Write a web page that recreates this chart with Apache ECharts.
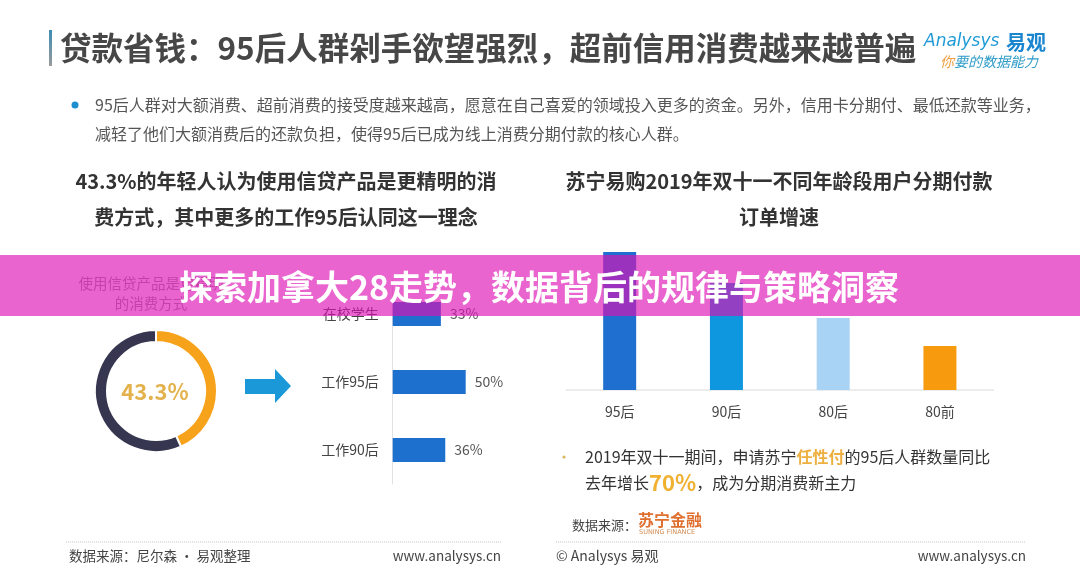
<!DOCTYPE html>
<html>
<head>
<meta charset="utf-8">
<script src="https://cdn.jsdelivr.net/npm/echarts@6/dist/echarts.min.js"></script>
<style>
html,body{margin:0;padding:0;background:#fff;}
#c{width:1080px;height:573px;}
</style>
</head>
<body>
<div id="c"></div>
<script>
// ---------- data ----------
const donutNames = ['认为使用信贷产品更精明', '其他'];
const donutValues = [43.3, 56.7];
const groupCats = ['在校学生', '工作95后', '工作90后'];
const groupValues = [33, 50, 36];
const ageCats = ['95后', '90后', '80后', '80前'];
const ageValues = [138, 107, 72, 44];   // relative order growth
const ageColors = ['#1E6FCF', '#0E97DF', '#A9D3F5', '#F79A0E'];

const FONT = 'Noto Sans CJK SC';
const chart = echarts.init(document.getElementById('c'));

function txt(x, y, text, style, extra) {
  return Object.assign({
    type: 'text', x: x, y: y,
    style: Object.assign({ text: text, fontFamily: FONT, fill: '#444', fontSize: 14, textVerticalAlign: 'middle', textAlign: 'left' }, style)
  }, extra || {});
}

const graphics = [
  // title bar
  { type: 'rect', shape: { x: 49, y: 30, width: 3, height: 36 },
    style: { fill: new echarts.graphic.LinearGradient(0, 0, 0, 1, [{ offset: 0, color: '#3d8db5' }, { offset: 1, color: '#9a9a9a' }]) } },
  txt(60, 48, '贷款省钱：95后人群剁手欲望强烈，超前信用消费越来越普遍', { fontSize: 31.5, fontWeight: 'bold', fill: '#474747' }),
  // logo
  txt(924, 42, 'Analysys', { fontSize: 17, fontStyle: 'italic', fill: '#1f9ad6', fontFamily: 'DejaVu Sans' }),
  txt(1006, 42, '易观', { fontSize: 20, fontWeight: 'bold', fill: '#1a86cf' }),
  { type: 'text', x: 940, y: 62, style: {
      text: '{a|你}{b|要的数据能力}', fontFamily: FONT, textVerticalAlign: 'middle',
      rich: { a: { fontFamily: FONT, fontSize: 14, fontStyle: 'italic', fill: '#f0a040' },
              b: { fontFamily: FONT, fontSize: 14, fontStyle: 'italic', fill: '#2f9cc8' } } } },
  // bullet paragraph
  { type: 'circle', shape: { cx: 75, cy: 105, r: 3.5 }, style: { fill: '#1f8ed0' } },
  txt(95, 105, '95后人群对大额消费、超前消费的接受度越来越高，愿意在自己喜爱的领域投入更多的资金。另外，信用卡分期付、最低还款等业务，', { fontSize: 16, fill: '#555' }),
  txt(95, 134, '减轻了他们大额消费后的还款负担，使得95后已成为线上消费分期付款的核心人群。', { fontSize: 16, fill: '#555' }),
  // sub titles
  txt(286, 181, '43.3%的年轻人认为使用信贷产品是更精明的消', { fontSize: 20, fontWeight: 'bold', fill: '#333', textAlign: 'center' }),
  txt(286, 217, '费方式，其中更多的工作95后认同这一理念', { fontSize: 20, fontWeight: 'bold', fill: '#333', textAlign: 'center' }),
  txt(779, 181, '苏宁易购2019年双十一不同年龄段用户分期付款', { fontSize: 20, fontWeight: 'bold', fill: '#333', textAlign: 'center' }),
  txt(779, 217, '订单增速', { fontSize: 20, fontWeight: 'bold', fill: '#333', textAlign: 'center' }),
  // donut caption
  txt(151, 283, '使用信贷产品是更精明', { fontSize: 14.5, fill: '#999', textAlign: 'center' }),
  txt(151, 303, '的消费方式', { fontSize: 14.5, fill: '#999', textAlign: 'center' }),
  // donut centre value
  txt(155, 392, donutValues[0] + '%', { fontSize: 22, fontWeight: 'bold', fill: '#E4B24C', textAlign: 'center' }),
  // arrow
  { type: 'polygon', shape: { points: [[245, 379], [275, 379], [275, 369], [291, 386], [275, 403], [275, 394], [245, 394]] }, style: { fill: '#1A98D8' } },
  // right bullet
  { type: 'circle', shape: { cx: 564, cy: 457, r: 1.6 }, style: { fill: '#d9b860' } },
  { type: 'text', x: 585, y: 457, style: {
      text: '2019年双十一期间，申请苏宁{o|任性付}的95后人群数量同比',
      fontFamily: FONT, fontSize: 16, fill: '#333', textVerticalAlign: 'middle',
      rich: { o: { fontFamily: FONT, fontSize: 16, fill: '#EDB040', fontWeight: 'bold' } } } },
  { type: 'text', x: 585, y: 483, style: {
      text: '去年增长{b|70%}，成为分期消费新主力',
      fontFamily: FONT, fontSize: 16, fill: '#333', textVerticalAlign: 'middle',
      rich: { b: { fontFamily: FONT, fontSize: 22, fill: '#F0B030', fontWeight: 'bold' } } } },
  // data source (right)
  txt(572, 525, '数据来源：', { fontSize: 13, fill: '#444' }),
  txt(638, 520, '苏宁金融', { fontSize: 16, fontWeight: 'bold', fill: '#E07030' }),
  txt(639, 532, 'SUNING FINANCE', { fontSize: 6.5, fill: '#d08a50', fontFamily: 'DejaVu Sans' }),
  // dotted separators
  { type: 'line', shape: { x1: 66, y1: 542, x2: 501, y2: 542 }, style: { stroke: '#c4c4c4', lineWidth: 1, lineDash: [1, 1] } },
  { type: 'line', shape: { x1: 556, y1: 542, x2: 1026, y2: 542 }, style: { stroke: '#c4c4c4', lineWidth: 1, lineDash: [1, 1] } },
  // footer
  txt(69, 556, '数据来源：尼尔森 · 易观整理', { fontSize: 13.5, fill: '#444' }),
  txt(501, 556, 'www.analysys.cn', { fontSize: 13.5, fill: '#444', textAlign: 'right' }),
  txt(556, 556, '© Analysys 易观', { fontSize: 14, fill: '#444' }),
  txt(1026, 556, 'www.analysys.cn', { fontSize: 13.5, fill: '#444', textAlign: 'right' }),
  // overlay banner
  { type: 'rect', z: 100, shape: { x: 0, y: 255, width: 1080, height: 61 }, style: { fill: 'rgba(221,17,180,0.65)' } },
  { type: 'text', z: 101, x: 539, y: 287, style: { text: '探索加拿大28走势，数据背后的规律与策略洞察', fontFamily: FONT, fontSize: 34, fontWeight: 'bold', fill: '#fff', textAlign: 'center', textVerticalAlign: 'middle' } }
];

const option = {
  backgroundColor: '#fff',
  animation: false,
  textStyle: { fontFamily: FONT },
  grid: [
    { left: 392.7, top: 280, width: 146, height: 204 },
    { left: 566.3, top: 250, width: 427, height: 140 }
  ],
  xAxis: [
    { type: 'value', gridIndex: 0, min: 0, max: 100, show: false },
    { type: 'category', gridIndex: 1, data: ageCats,
      axisLine: { lineStyle: { color: '#e6e6e6', width: 1.5 } }, axisTick: { show: false },
      axisLabel: { color: '#444', fontSize: 14, margin: 15, fontFamily: FONT } }
  ],
  yAxis: [
    { type: 'category', gridIndex: 0, data: groupCats, inverse: true,
      axisLine: { lineStyle: { color: '#e2e2e2' } }, axisTick: { show: false },
      axisLabel: { color: '#444', fontSize: 14, margin: 14, fontFamily: FONT } },
    { type: 'value', gridIndex: 1, min: 0, max: 140, show: false, splitLine: { show: false } }
  ],
  series: [
    { type: 'pie', center: [156, 391], radius: [49, 61], startAngle: 90, clockwise: true,
      label: { show: false }, labelLine: { show: false }, silent: true,
      itemStyle: { borderColor: '#fff', borderWidth: 2 },
      data: donutValues.map((v, i) => ({ name: donutNames[i], value: v, itemStyle: { color: i === 0 ? '#F7A21B' : '#373650' } })) },
    { type: 'bar', xAxisIndex: 0, yAxisIndex: 0, data: groupValues, barWidth: 24,
      itemStyle: { color: '#1E70CF' },
      label: { show: true, position: 'right', distance: 9, formatter: '{c}%', color: '#555', fontSize: 14, fontFamily: FONT } },
    { type: 'bar', xAxisIndex: 1, yAxisIndex: 1, barWidth: 33,
      data: ageValues.map((v, i) => ({ value: v, itemStyle: { color: ageColors[i] } })) }
  ],
  graphic: graphics
};
chart.setOption(option);
</script>
</body>
</html>
